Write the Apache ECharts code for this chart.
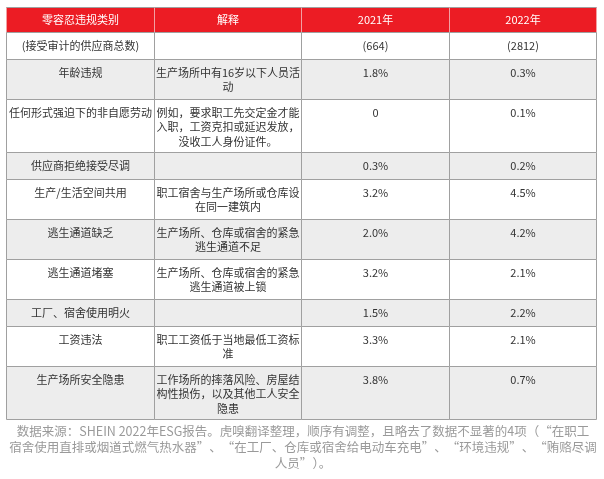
<!DOCTYPE html>
<html>
<head>
<meta charset="utf-8">
<script src="https://cdn.jsdelivr.net/npm/echarts@6/dist/echarts.min.js"></script>
<style>
html,body{margin:0;padding:0;background:#fff;}
#main{width:604px;height:479px;}
</style>
</head>
<body>
<div id="main"></div>
<script>
// ---- data ----
var headers = ['零容忍违规类别', '解释', '2021年', '2022年'];
var categories = ['(接受审计的供应商总数)', '年龄违规', '任何形式强迫下的非自愿劳动', '供应商拒绝接受尽调', '生产/生活空间共用', '逃生通道缺乏', '逃生通道堵塞', '工厂、宿舍使用明火', '工资违法', '生产场所安全隐患'];
var explanations = ['', '生产场所中有16岁以下人员活\n动', '例如，要求职工先交定金才能\n入职，工资克扣或延迟发放，\n没收工人身份证件。', '', '职工宿舍与生产场所或仓库设\n在同一建筑内', '生产场所、仓库或宿舍的紧急\n逃生通道不足', '生产场所、仓库或宿舍的紧急\n逃生通道被上锁', '', '职工工资低于当地最低工资标\n准', '工作场所的摔落风险、房屋结\n构性损伤，以及其他工人安全\n隐患'];
var auditedTotal2021 = 664;
var auditedTotal2022 = 2812;
var rates2021 = [1.8, 0, 0.3, 3.2, 2.0, 3.2, 1.5, 3.3, 3.8];
var rates2022 = [0.3, 0.1, 0.2, 4.5, 4.2, 2.1, 2.2, 2.1, 0.7];
var footnote = '数据来源：SHEIN 2022年ESG报告。虎嗅翻译整理，顺序有调整，且略去了数据不显著的4项（“在职工\n宿舍使用直排或烟道式燃气热水器”、“在工厂、仓库或宿舍给电动车充电”、“环境违规”、“贿赂尽调\n人员”）。';

// ---- build table cells ----
function fmtRate(v) { return v === 0 ? '0' : v.toFixed(1) + '%'; }
var col2021 = ['(' + auditedTotal2021 + ')'].concat(rates2021.map(fmtRate));
var col2022 = ['(' + auditedTotal2022 + ')'].concat(rates2022.map(fmtRate));

var rows = [headers];
for (var i = 0; i < categories.length; i++) {
  rows.push([categories[i], explanations[i], col2021[i], col2022[i]]);
}
var edges = [0];
rows.forEach(function (r, ri) {
  var lines = 1;
  r.forEach(function (t) { lines = Math.max(lines, String(t).split('\n').length); });
  var u = ri === 0 ? 3.8 : 2 * lines + 2;
  edges.push(edges[edges.length - 1] + u);
});
var totalUnits = edges[edges.length - 1];

var cellData = [];
rows.forEach(function (r, ri) {
  r.forEach(function (t, ci) {
    cellData.push([ci, edges[ri], edges[ri + 1], t, ri]);
  });
});

var chart = echarts.init(document.getElementById('main'), null, { renderer: 'canvas' });
var FONT = '"Microsoft YaHei","Noto Sans CJK SC",sans-serif';

chart.setOption({
  backgroundColor: '#fff',
  animation: false,
  grid: { left: 6, right: 8, top: 7, bottom: 60 },
  xAxis: { type: 'category', data: headers, show: false, boundaryGap: true },
  yAxis: { type: 'value', min: 0, max: totalUnits, inverse: true, show: false },
  graphic: [{
    type: 'text',
    x: 303,
    y: 423,
    style: {
      text: footnote,
      x: 0,
      y: 0,
      align: 'center',
      verticalAlign: 'top',
      fontSize: 12.5,
      fill: '#9a9a9a',
      lineHeight: 16,
      fontFamily: FONT
    }
  }],
  series: [{
    type: 'custom',
    data: cellData,
    encode: { x: 0, y: [1, 2] },
    renderItem: function (params, api) {
      var ci = api.value(0);
      var y0 = api.value(1), y1 = api.value(2);
      var ri = api.value(4);
      var text = cellData[params.dataIndex][3];
      var c = api.coord([ci, y0]);
      var c1 = api.coord([ci, y1]);
      var w = api.size([1, 0])[0];
      var x = Math.round(c[0] - w / 2) + 0.5;
      var top = Math.round(c[1]) + 0.5;
      var h = Math.round(c1[1]) - Math.round(c[1]);
      var wr = Math.round(c[0] + w / 2) - Math.round(c[0] - w / 2);
      var isHeader = ri === 0;
      var fill = isHeader ? '#EC1C24' : (ri % 2 === 0 ? '#EDEDED' : '#ffffff');
      var stroke = isHeader ? '#F2A0A2' : '#A0A0A0';
      var children = [{
        type: 'rect',
        shape: { x: x, y: top, width: wr, height: h },
        style: { fill: fill, stroke: stroke, lineWidth: 1 }
      }];
      if (isHeader) {
        children.push({
          type: 'line',
          shape: { x1: x, y1: top, x2: x + wr, y2: top },
          style: { stroke: '#A0A0A0', lineWidth: 1 }
        });
      }
      children.push({
        type: 'text',
        style: {
          text: text,
          x: x + wr / 2,
          y: isHeader ? top + h / 2 : top + 6,
          align: 'center',
          verticalAlign: isHeader ? 'middle' : 'top',
          fill: isHeader ? '#ffffff' : '#333333',
          fontSize: 11,
          fontFamily: FONT,
          lineHeight: 14.5
        }
      });
      return { type: 'group', children: children };
    }
  }]
});
</script>
</body>
</html>
